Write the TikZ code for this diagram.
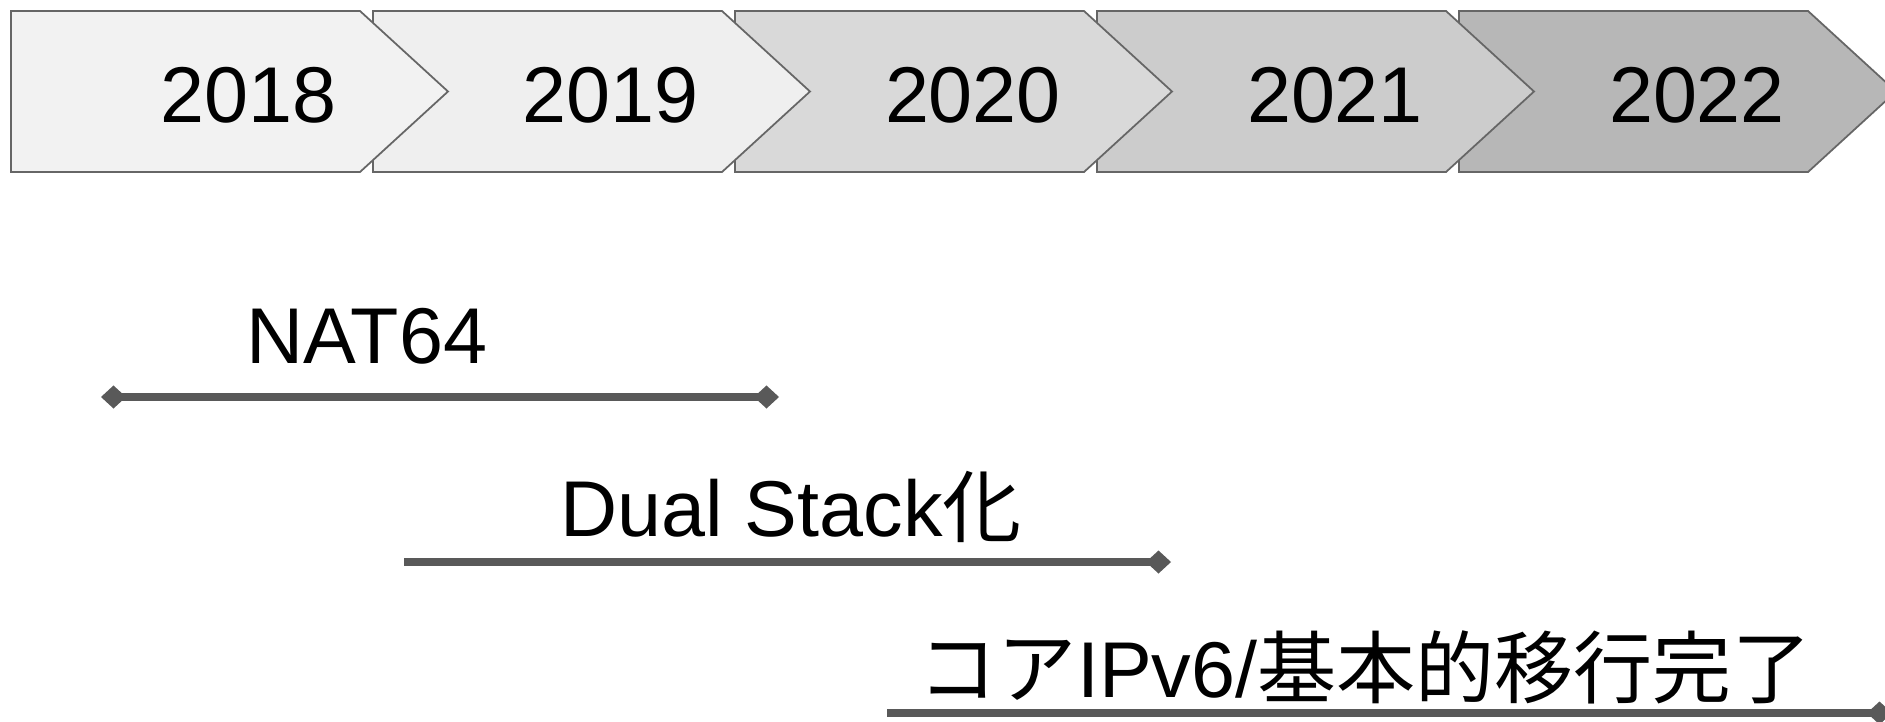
\documentclass[tikz,border=0pt]{standalone}
\usepackage{fontspec}
\setmainfont{Liberation Sans}
\newfontfamily\jpfont{Noto Sans CJK JP}
\usetikzlibrary{arrows.meta}
\definecolor{BarGrey}{HTML}{595959}
\definecolor{EdgeGrey}{HTML}{666666}
\tikzset{
	yearbox/.style = {draw = EdgeGrey, line width = 0.5pt, line join = miter},
	bigtext/.style = {inner sep = 0pt, anchor = base, font = \fontsize{22.5}{27}\selectfont},
	bar/.style = {draw = BarGrey, line width = 0.08cm},
	dia/.tip = {Diamond[length = 0.25cm, width = 0.23cm]}
}
\begin{document}
\begin{tikzpicture}[x = 0.01cm, y = -0.01cm]
	\path [use as bounding box, draw = none] (0, 0) rectangle (1885, 721);
	% year chevrons, right to left so each tip lies over the next one
	\foreach \i/\yr/\col in {4/2022/B7B7B7, 3/2021/CCCCCC, 2/2020/D9D9D9, 1/2019/EFEFEF, 0/2018/F2F2F2} {
		\definecolor{boxfill}{HTML}{\col}
		\draw [yearbox, fill = boxfill] ({11 + 362*\i}, 11) -- ++(349, 0) -- ++(88, 80.5) -- ++(-88, 80.5) -- ++(-349, 0) -- cycle;
		\node [bigtext] (y\yr) at ({249 + 362*\i}, 122) {\yr};
	}
	% phases
	\node [bigtext] (nat) at (367, 363) {NAT64};
	\coordinate (natL) at (101, 397);
	\coordinate (natR) at (779, 397);
	\draw [bar, dia-dia] (natL) -- (natR);
	\node [bigtext] (dual) at (791, 536) {Dual Stack{\jpfont 化}};
	\coordinate (dualL) at (404, 562);
	\coordinate (dualR) at (1171, 562);
	\draw [bar, -dia] (dualL) -- (dualR);
	\node [bigtext] (core) at (1365, 697) {{\jpfont コア}IPv6/{\jpfont 基本的移行完了}};
	\coordinate (coreL) at (887, 713);
	\coordinate (coreR) at (1892, 713);
	\draw [bar, -dia] (coreL) -- (coreR);
\end{tikzpicture}
\end{document}
